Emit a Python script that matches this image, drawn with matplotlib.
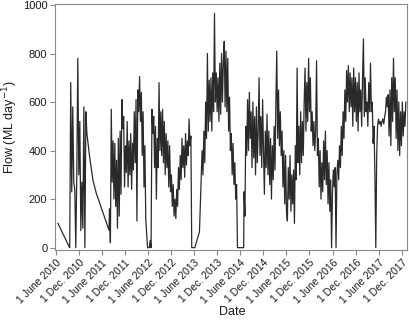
import numpy as np
import pandas as pd
import matplotlib
matplotlib.use("Agg")
import matplotlib.pyplot as plt

plt.rcParams['font.family'] = ['Liberation Sans', 'DejaVu Sans']

# sparse points (straight stretches = gaps in the record)
start_dates = ["2010-06-19", "2010-09-19"]
start_flow = [100, 0]

# autumn 2010 burst, ~8-day spacing
burst_start = "2010-09-20"
burst_flow = [0, 680, 230, 580, 270, 240, 0, 300, 780, 300, 520, 70, 270, 80,
              580, 0, 560, 470]

recess_dates = ["2011-02-25", "2011-03-23", "2011-04-19", "2011-07-28"]
recess_flow = [373, 278, 223, 72]

# weekly records
flow_2011_start = "2011-08-01"
flow_2011 = [160, 20, 570, 270, 440, 200, 430, 170, 360, 80,
             450, 130, 480, 220, 610, 490, 540, 250, 420, 310,
             520, 250, 440, 300, 470, 240, 430, 320, 560, 350,
             610, 110, 650, 560, 705, 520, 640, 380, 560, 250,
             420, 120, 60, 0, 0, 0, 30, 0]

flow_2012_start = "2012-07-02"
flow_2012 = [570, 470, 540, 330, 500, 200, 450, 330, 680, 400,
             560, 380, 570, 350, 520, 300, 470, 330, 440, 250,
             420, 230, 300, 170, 260, 130, 200, 120, 240, 170,
             330, 240, 380, 280, 450, 330, 420, 290, 470, 340,
             440, 380, 530, 420, 460, 0]

dry_2013_dates = ["2013-06-06", "2013-07-13"]
dry_2013_flow = [0, 65]

flow_2013_start = "2013-07-27"
flow_2013 = [280, 400, 300, 480, 350, 600, 450, 800, 480, 690,
             520, 700, 480, 720, 560, 965, 600, 720, 560, 700,
             520, 760, 550, 800, 600, 760, 850, 580, 810, 560,
             780, 480, 620, 400, 470, 300, 430, 260, 350, 200,
             260, 0]

dry_2014_dates = ["2014-06-28"]
dry_2014_flow = [0]

flow_2014_start = "2014-07-01"
flow_2014 = [230, 130, 500, 380, 610, 400, 640, 450, 560, 330,
             600, 370, 540, 300, 580, 350, 480, 700, 380, 540,
             330, 610, 400, 220, 480, 330, 550, 300, 480, 260,
             450, 200, 420, 280, 500, 320, 600, 810, 450, 650,
             420, 560, 380, 480, 250, 400, 180, 380, 150, 110,
             330, 200, 380, 150, 300, 180, 320, 100, 420, 280,
             740, 350, 500, 300, 560, 350, 520, 380, 600, 740,
             480, 680, 520, 780, 560, 700, 480, 560, 420, 520,
             400, 480, 770, 380, 450, 250, 400, 200, 350, 230,
             440, 280, 480, 260, 400, 180, 350, 150, 280, 0,
             230, 320, 250, 330, 0, 300, 360, 280, 420, 330,
             500, 380, 560, 450, 650, 520, 730, 600, 750, 560,
             720, 580, 700, 500, 740, 560, 700, 520, 680, 480,
             720, 560, 650, 500, 700, 860, 540, 700, 560, 600,
             500, 680, 560, 760, 560, 600, 430, 500, 300, 0,
             380, 500, 530, 510, 520, 500, 520, 530, 510, 540,
             560, 620, 580, 630, 460, 650, 420, 700, 520, 780,
             560, 700, 450, 650, 400, 600, 380, 560, 420, 600,
             460, 560, 500, 600]

y_ticks = [0, 200, 400, 600, 800, 1000]
x_tick_dates = pd.date_range("2010-06-01", "2017-12-01", freq="6MS")


def weekly(start, vals, step="7D"):
    return pd.Series(vals, index=pd.date_range(start, periods=len(vals), freq=step))


parts = [
    pd.Series(start_flow, index=pd.to_datetime(start_dates)),
    weekly(burst_start, burst_flow, "8D"),
    pd.Series(recess_flow, index=pd.to_datetime(recess_dates)),
    weekly(flow_2011_start, flow_2011),
    weekly(flow_2012_start, flow_2012),
    pd.Series(dry_2013_flow, index=pd.to_datetime(dry_2013_dates)),
    weekly(flow_2013_start, flow_2013),
    pd.Series(dry_2014_flow, index=pd.to_datetime(dry_2014_dates)),
    weekly(flow_2014_start, flow_2014),
]
flow = pd.concat(parts).sort_index()

fig = plt.figure(figsize=(4.1, 3.33), dpi=100)
ax = fig.add_axes([0.134, 0.249, 0.859, 0.739])
ax.plot(flow.index, flow.values, color='#2a2a2a', lw=0.9)

ax.set_xlim(pd.Timestamp("2010-05-26"), pd.Timestamp("2018-01-12"))
ax.set_ylim(-10, 1004)
ax.set_yticks(y_ticks)
ax.set_xticks(x_tick_dates)
labels = [f"1 {'June' if d.month == 6 else 'Dec.'} {d.year}" for d in x_tick_dates]
ax.set_xticklabels(labels, rotation=45, ha='right', rotation_mode='anchor', fontsize=7.5)

for s in ax.spines.values():
    s.set_color('#8a8a8a')
    s.set_linewidth(0.8)
ax.tick_params(colors='#8a8a8a', labelcolor='#1a1a1a', length=3.5, width=0.8, pad=2)
ax.tick_params(axis='y', labelsize=8)

ax.set_ylabel("Flow (ML day$^{-1}$)", fontsize=9, color='#1a1a1a')
ax.yaxis.set_label_coords(-0.10, 0.5)
ax.set_xlabel("Date", fontsize=9, color='#1a1a1a')
ax.xaxis.set_label_coords(0.503, -0.228)

fig.savefig("out.png", dpi=100)
